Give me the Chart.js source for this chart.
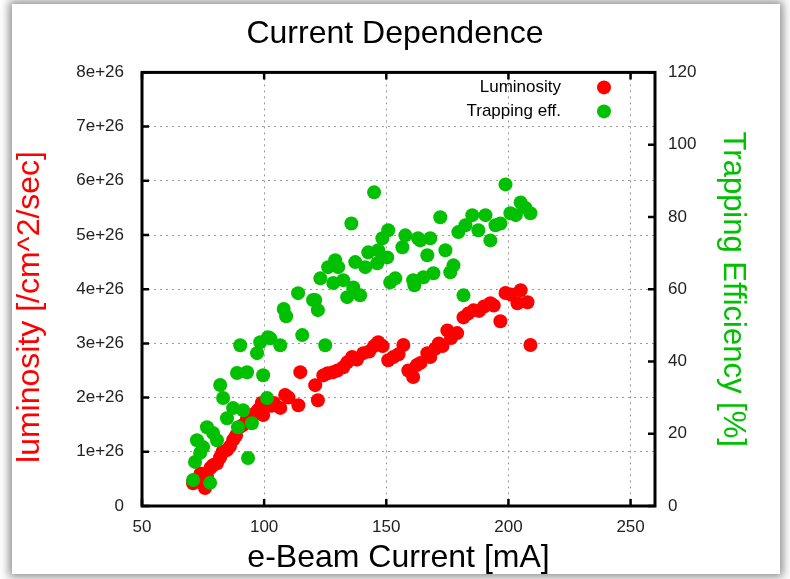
<!DOCTYPE html>
<html>
<head>
<meta charset="utf-8">
<script src="https://cdn.jsdelivr.net/npm/chart.js@4.4.0/dist/chart.umd.min.js"></script>
<style>
    html, body { margin: 0; padding: 0; background: #fff; }
    body { width: 790px; height: 579px; position: relative; overflow: hidden; }
    #card {
        position: absolute; left: 12px; top: 4px; width: 768px; height: 570px;
        background: #fff; box-shadow: 0 0 9px 3px rgba(0, 0, 0, 0.45);
    }
    #wrap { position: absolute; left: 0; top: 0; width: 790px; height: 579px; }
</style>
</head>
<body>
<div id="card"></div>
<div id="wrap"><canvas id="chart" width="790" height="579"></canvas></div>
<script>
// Luminosity (in units of 1e26 /cm^2/sec) vs e-beam current [mA]
const lumiCurrent = [70.9, 72.5, 74, 75.8, 76.6, 78, 79, 80.7, 82, 83, 84.8, 86, 87.3, 88.5, 90.2, 91.5,
    93, 94.5, 96, 97.5, 99, 99.6, 101.2, 103, 104, 106.6, 108.6, 110, 114, 114.8, 120.9, 122, 124.2, 126,
    128.3, 130, 132.4, 134, 136, 138, 140.6, 143, 145, 146.7, 148.5, 150.8, 152.9, 155, 157, 159, 161,
    162.5, 164, 166.8, 168, 170, 171.5, 173, 175, 176.5, 179, 181.6, 183.5, 185.7, 188, 190, 192.6, 194,
    196.7, 198.8, 201, 203.7, 205, 207.8, 209];
const lumiValues = [0.42, 0.5, 0.6, 0.33, 0.53, 0.7, 0.75, 0.79, 0.9, 1.0, 1.03, 1.1, 1.22, 1.3, 1.46, 1.5,
    1.6, 1.65, 1.7, 1.77, 1.9, 1.68, 1.95, 1.85, 1.9, 1.81, 2.05, 2.0, 1.86, 2.47, 2.23, 1.95, 2.41, 2.45,
    2.47, 2.5, 2.56, 2.65, 2.75, 2.7, 2.82, 2.85, 2.95, 3.02, 2.95, 2.69, 2.75, 2.8, 2.97, 2.5, 2.38,
    2.6, 2.64, 2.82, 2.75, 2.9, 3.0, 2.95, 3.24, 3.1, 3.19, 3.48, 3.55, 3.61, 3.6, 3.68, 3.74, 3.7,
    3.41, 3.93, 3.9, 3.74, 3.98, 3.76, 2.97];

// Trapping efficiency [%] vs e-beam current [mA]
const trapCurrent = [70.9, 77.9, 71.7, 73.8, 75, 72.5, 80.7, 79.1, 76.6, 84.8, 89.3, 95, 93.4, 87.3, 91.4,
    83.2, 101.2, 82, 88.9, 93, 99.6, 97.1, 90.2, 98.4, 102.5, 106.6, 101.6, 115.6, 108, 109, 113.9, 120,
    122, 125, 120.9, 123, 126.2, 129.1, 130.3, 128.3, 132.4, 134, 136.5, 139.3, 135.7, 137.3, 141.4,
    142.6, 145, 146.3, 146.7, 148.4, 150.4, 150.8, 151.6, 153.7, 156.6, 157.8, 161, 161.5, 163, 163.9,
    165.2, 166.8, 168, 169.3, 172.1, 174.2, 176.2, 177.5, 179.5, 181.6, 182.4, 185.2, 187.7, 190.6,
    192.6, 194.7, 196.7, 198.8, 200.8, 203, 205, 207, 209];
const trapValues = [7.2, 6.4, 12.2, 14.7, 16.3, 18.2, 18.2, 20.2, 21.8, 24.3, 21.8, 22.9, 13.3, 27.1, 26.5,
    29.9, 29.9, 33.5, 36.8, 37, 36.2, 42.3, 44.5, 45.3, 46.4, 44.5, 46.7, 47.3, 54.5, 52.5, 58.9, 57,
    54.2, 44.5, 57, 63, 66.1, 68, 66.1, 61.7, 62.5, 57.8, 60.5, 58.3, 78.2, 67.5, 66.1,
    70.2, 86.8, 67.2, 70.8, 74.1, 68.8, 76.3, 61.9, 63, 71.6, 74.9, 62.5, 61.1, 74.1, 73.5,
    63.3, 69.4, 74.1, 64.4, 79.9, 70.8, 64.7, 66.6, 75.8, 58.3, 77.7, 80.5, 76.3, 80.5,
    73.5, 77.7, 78.2, 89, 81, 80.5, 84, 82.5, 81];

const xTicks = { min: 50, max: 260, step: 50 };
const lumiTicks = { min: 0, max: 8, step: 1 };
const trapTicks = { min: 0, max: 120, step: 20 };

const RED = '#ff0000';
const GREEN = '#00c000';
const FONT = "'Liberation Sans', Arial, sans-serif";

const toPoints = (xs, ys) => xs.map((x, i) => ({ x: x, y: ys[i] }));

// Frame, inward tick marks and the inset legend
const framePlugin = {
    id: 'frame',
    afterDatasetsDraw(chart) {
        const { ctx, chartArea: a, scales } = chart;
        ctx.save();
        ctx.strokeStyle = '#000';
        ctx.lineWidth = 2.5;
        const len = 7;
        ctx.beginPath();
        scales.x.ticks.forEach(t => {
            const px = scales.x.getPixelForValue(t.value);
            ctx.moveTo(px, a.bottom); ctx.lineTo(px, a.bottom - len);
            ctx.moveTo(px, a.top); ctx.lineTo(px, a.top + len);
        });
        scales.y.ticks.forEach(t => {
            const py = scales.y.getPixelForValue(t.value);
            ctx.moveTo(a.left, py); ctx.lineTo(a.left + len, py);
        });
        scales.y2.ticks.forEach(t => {
            const py = scales.y2.getPixelForValue(t.value);
            ctx.moveTo(a.right, py); ctx.lineTo(a.right - len, py);
        });
        ctx.stroke();
        ctx.lineWidth = 3;
        ctx.strokeRect(a.left, a.top, a.right - a.left, a.bottom - a.top);

        // legend
        const items = [['Luminosity', RED], ['Trapping eff.', GREEN]];
        ctx.font = '17px ' + FONT;
        ctx.textAlign = 'right';
        ctx.textBaseline = 'middle';
        items.forEach(([label, color], i) => {
            const y = a.top + 15 + i * 24;
            ctx.fillStyle = '#000';
            ctx.fillText(label, a.right - 94, y);
            ctx.fillStyle = color;
            ctx.beginPath();
            ctx.arc(a.right - 51, y, 7, 0, Math.PI * 2);
            ctx.fill();
        });
        ctx.restore();
    }
};

const gridStyle = {
    color: '#9a9a9a',
    lineWidth: 1,
    drawTicks: false
};
// border hidden, its dash is what v4 uses for the grid lines
const dottedBorder = { display: false, dash: [2, 4] };

new Chart(document.getElementById('chart').getContext('2d'), {
    type: 'scatter',
    data: {
        datasets: [
            {
                label: 'Luminosity',
                data: toPoints(lumiCurrent, lumiValues),
                yAxisID: 'y',
                backgroundColor: RED,
                borderWidth: 0,
                pointRadius: 7,
                pointHoverRadius: 7,
                order: 1
            },
            {
                label: 'Trapping eff.',
                data: toPoints(trapCurrent, trapValues),
                yAxisID: 'y2',
                backgroundColor: GREEN,
                borderWidth: 0,
                pointRadius: 7,
                pointHoverRadius: 7,
                order: 0
            }
        ]
    },
    options: {
        responsive: false,
        animation: false,
        layout: { padding: 0 },
        plugins: {
            legend: { display: false },
            tooltip: { enabled: false },
            title: {
                display: true,
                text: 'Current Dependence',
                color: '#000',
                font: { family: FONT, size: 32, weight: 'normal' },
                padding: { top: 15, bottom: 19 }
            }
        },
        scales: {
            x: {
                type: 'linear',
                min: xTicks.min,
                max: xTicks.max,
                border: dottedBorder,
                grid: gridStyle,
                ticks: {
                    stepSize: xTicks.step,
                    includeBounds: false,
                    padding: 11,
                    color: '#222',
                    maxRotation: 0,
                    font: { family: FONT, size: 17 }
                },
                title: {
                    display: true,
                    text: 'e-Beam Current [mA]',
                    color: '#000',
                    font: { family: FONT, size: 32 },
                    padding: { top: 0, bottom: 2 }
                },
                afterFit: s => { s.height = 73; }
            },
            y: {
                position: 'left',
                min: lumiTicks.min,
                max: lumiTicks.max,
                border: dottedBorder,
                grid: gridStyle,
                ticks: {
                    stepSize: lumiTicks.step,
                    padding: 18,
                    color: '#222',
                    font: { family: FONT, size: 17 },
                    callback: v => v === 0 ? '0' : v + 'e+26'
                },
                title: {
                    display: true,
                    text: 'luminosity [/cm^2/sec]    ',
                    color: RED,
                    font: { family: FONT, size: 32 },
                    padding: { top: 11, bottom: 0 }
                },
                afterFit: s => { s.width = 142; }
            },
            y2: {
                position: 'right',
                min: trapTicks.min,
                max: trapTicks.max,
                border: { display: false },
                grid: { display: false, drawTicks: false },
                ticks: {
                    stepSize: trapTicks.step,
                    padding: 13,
                    color: '#222',
                    font: { family: FONT, size: 17 }
                },
                title: {
                    display: true,
                    text: 'Trapping Efficiency [%]',
                    color: GREEN,
                    font: { family: FONT, size: 31 },
                    padding: { top: 39, bottom: 0 }
                },
                afterFit: s => { s.width = 135; }
            }
        }
    },
    plugins: [framePlugin]
});
</script>
</body>
</html>
